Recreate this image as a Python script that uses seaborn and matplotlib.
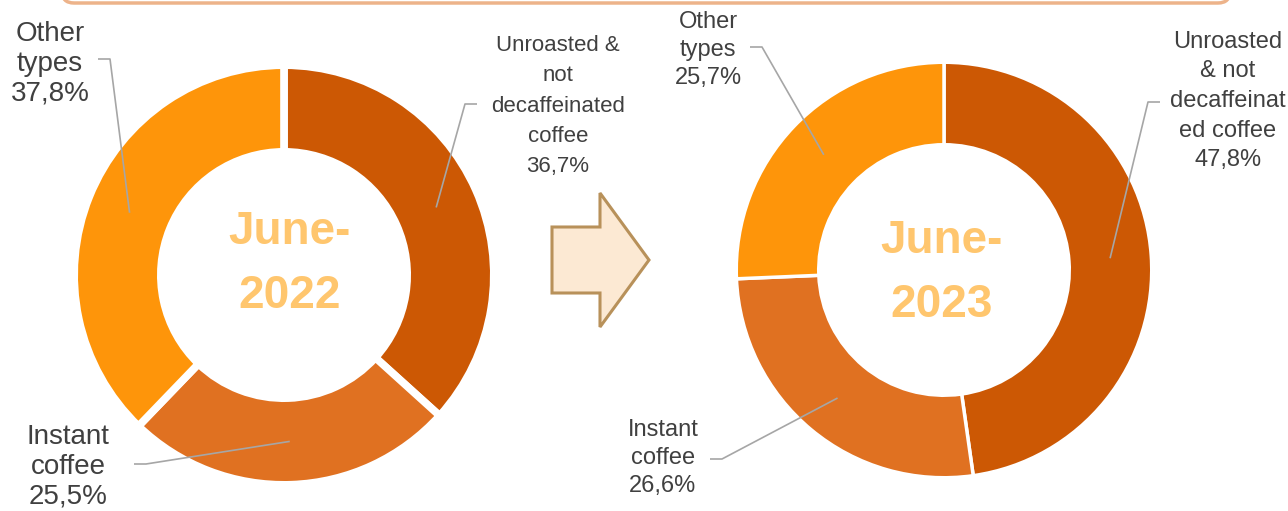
import numpy as np
import matplotlib
matplotlib.use("Agg")
import matplotlib.pyplot as plt
from matplotlib.patches import FancyBboxPatch, Polygon
import seaborn as sns

# data
categories = ["Unroasted & not decaffeinated coffee", "Instant coffee", "Other types"]
share_2022 = [36.7, 25.5, 37.8]
share_2023 = [47.8, 26.6, 25.7]
titles = ["June-\n2022", "June-\n2023"]

label_2022 = ["Unroasted &\nnot\ndecaffeinated\ncoffee\n36,7%", "Instant\ncoffee\n25,5%", "Other\ntypes\n37,8%"]
label_2023 = ["Unroasted\n& not\ndecaffeinat\ned coffee\n47,8%", "Instant\ncoffee\n26,6%", "Other\ntypes\n25,7%"]

colors = ["#CC5804", "#E07121", "#FE950A"]

sns.set_theme(style="white")
plt.rcParams["font.family"] = ["Liberation Sans", "DejaVu Sans"]

W, H = 1288, 511
fig = plt.figure(figsize=(W / 100, H / 100), dpi=100)
ax = fig.add_axes([0, 0, 1, 1])

R_OUT, R_IN = 206, 127

def Y(y):
    # image row -> data y
    return H - y

charts = [
    dict(vals=share_2022, labels=label_2022, center=(284, Y(275)), gap=5.5,
         title=titles[0], title_xy=(290, Y(264)),
         # (text x, text center y, fontsize, linespacing, leader start x, leader y, dir)
         lab=[(558, 106, 16, 1.58, 477, 104, -1),
              (68, 467, 20, 1.18, 134, 464, 1),
              (50, 64, 20, 1.18, 98, 59, 1)]),
    dict(vals=share_2023, labels=label_2023, center=(944, Y(270)), gap=2.5,
         title=titles[1], title_xy=(942, Y(273)),
         lab=[(1228, 101, 17, 1.45, 1160, 102, -1),
              (663, 458, 17, 1.35, 710, 459, 1),
              (708, 50, 17, 1.35, 750, 47, 1)]),
]

for c in charts:
    cx, cy = c["center"]
    half = c["gap"] * 100 / 72 / 2  # edge stroke eats half its width into the ring
    wedges, _ = ax.pie(c["vals"], colors=colors, startangle=90, counterclock=False,
                       center=(cx, cy), radius=R_OUT + half,
                       wedgeprops=dict(width=R_OUT - R_IN + 2 * half, edgecolor="white",
                                       linewidth=c["gap"]))
    ax.text(*c["title_xy"], c["title"], ha="center", va="center", fontsize=33,
            fontweight="bold", color="#FFC66E", linespacing=1.6)
    r_mid = (R_OUT + R_IN) / 2
    for w, txt, (tx, ty, fs, ls, lx, ly, d) in zip(wedges, c["labels"], c["lab"]):
        ang = np.deg2rad((w.theta1 + w.theta2) / 2)
        px, py = cx + r_mid * np.cos(ang), cy + r_mid * np.sin(ang)
        ax.plot([lx, lx + d * 12, px], [Y(ly), Y(ly), py], color="#A6A6A6",
                lw=1.2, solid_capstyle="butt", zorder=3)
        ax.text(tx, Y(ty), txt, ha="center", va="center", fontsize=fs,
                color="#404040", linespacing=ls)

# arrow between the two donuts
arrow = [(552, 227), (600, 227), (600, 193), (649, 260), (600, 327), (600, 293), (552, 293)]
ax.add_patch(Polygon([(x, Y(y)) for x, y in arrow], closed=True,
                     facecolor="#FCE9D3", edgecolor="#B8915A", lw=2.2, zorder=2))

# bottom edge of the header box
ax.add_patch(FancyBboxPatch((62, Y(3)), 1168, 80,
                            boxstyle="round,pad=0,rounding_size=12",
                            facecolor="white", edgecolor="#EDB38A", lw=2.5, zorder=1))

ax.set_xlim(0, W)
ax.set_ylim(0, H)
ax.set_aspect("auto")
ax.axis("off")

fig.savefig("out.png", dpi=100)
